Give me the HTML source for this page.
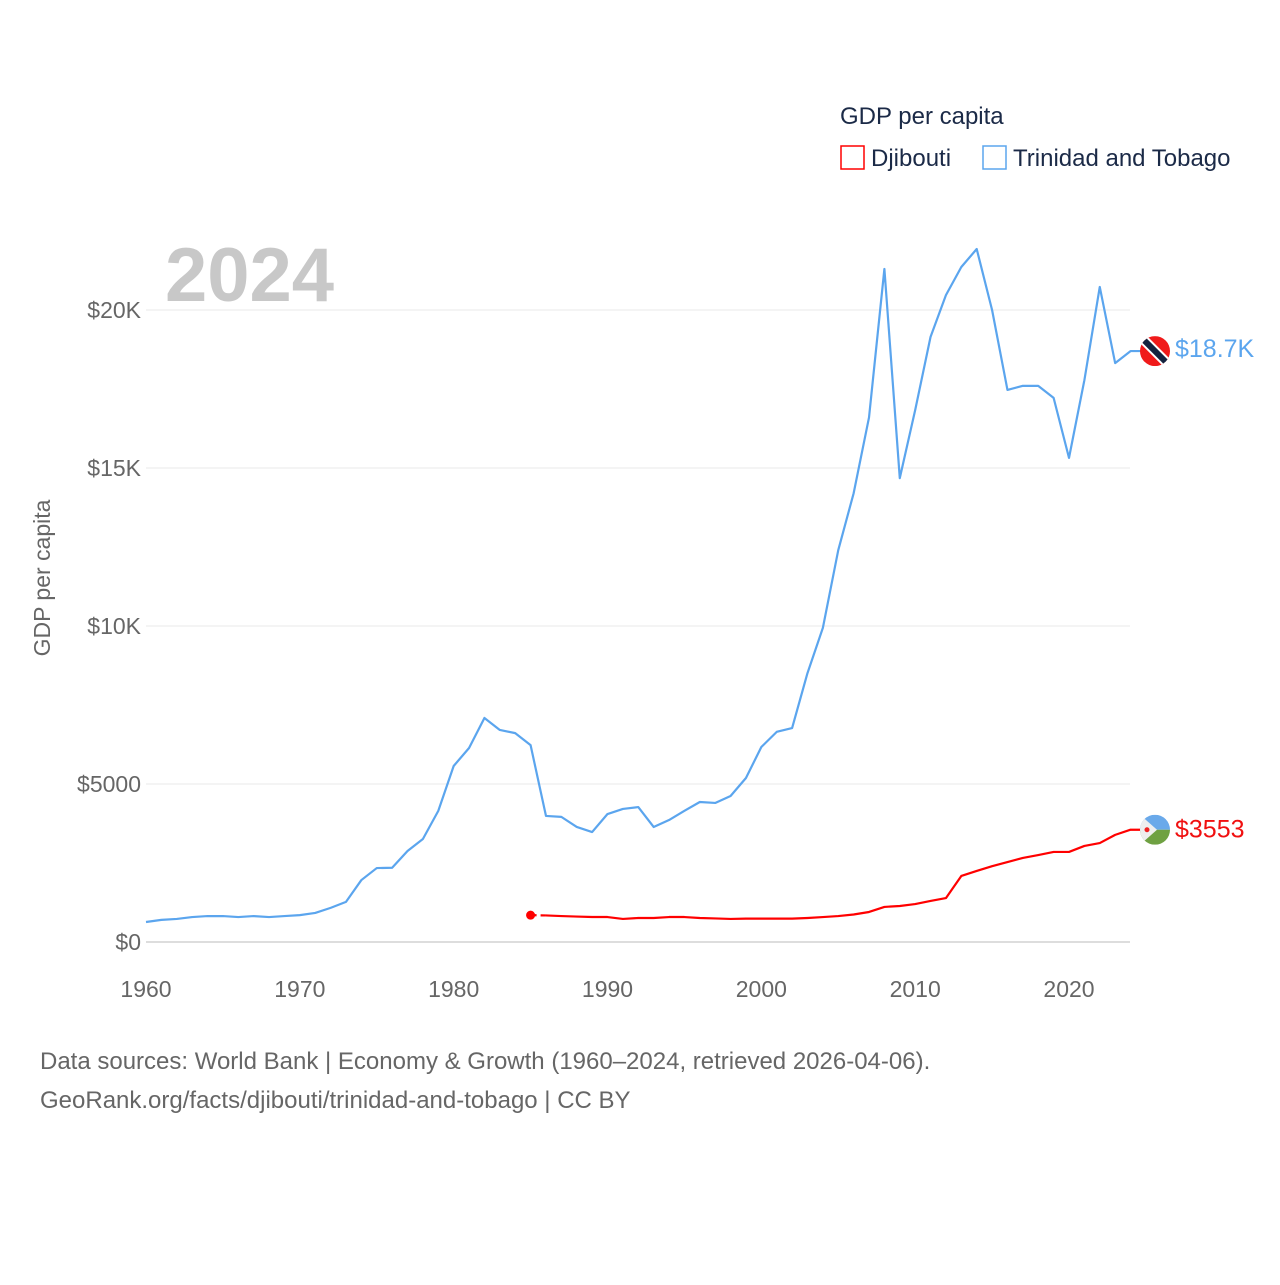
<!DOCTYPE html>
<html><head><meta charset="utf-8"><style>
body{margin:0;background:#fff;font-family:"Liberation Sans",sans-serif;}
svg text{font-family:"Liberation Sans",sans-serif;}
</style></head><body>
<svg width="1280" height="1280" viewBox="0 0 1280 1280">
<text x="840" y="124" font-size="24" fill="#1b2a47">GDP per capita</text>
<g>
<rect x="841" y="146" width="23" height="23" fill="none" stroke="#f00" stroke-width="1.5"/>
<text x="871" y="166" font-size="24" fill="#1b2a47">Djibouti</text></g>
<g>
<rect x="983" y="146" width="23" height="23" fill="none" stroke="#5ba5ee" stroke-width="1.5"/>
<text x="1013" y="166" font-size="24" fill="#1b2a47">Trinidad and Tobago</text></g>
<text x="165" y="301" font-size="76" font-weight="bold" fill="#c8c8c8">2024</text>
<g id="grid"></g><g id="yt"></g><g id="xt"></g>
<text transform="translate(50,578) rotate(-90)" text-anchor="middle" font-size="23" fill="#666">GDP per capita</text>
<g id="series"></g>
<text x="40" y="1069" font-size="24" fill="#666">Data sources: World Bank | Economy &amp; Growth (1960–2024, retrieved 2026-04-06).</text>
<text x="40" y="1108" font-size="24" fill="#666">GeoRank.org/facts/djibouti/trinidad-and-tobago | CC BY</text>
</svg>
<script>
const ttYears=[];for(let y=1960;y<=2024;y++)ttYears.push(y);
const ttValues=[633,700,730,790,820,820,790,820,790,820,850,920,1080,1270,1960,2340,2350,2880,3260,4150,5570,6140,7090,6710,6610,6230,3990,3960,3640,3480,4050,4210,4270,3640,3860,4150,4430,4400,4620,5190,6170,6650,6770,8510,9940,12400,14200,16600,21300,14680,16830,19150,20470,21360,21930,20000,17470,17600,17600,17220,15320,17780,20730,18320,18700];
const djYears=[];for(let y=1985;y<=2024;y++)djYears.push(y);
const djValues=[850,840,820,805,790,790,730,760,760,790,790,760,745,730,740,740,740,740,760,790,820,870,950,1110,1140,1200,1300,1390,2090,2250,2400,2530,2660,2750,2850,2850,3040,3130,3390,3553];
const yTicks=[0,5000,10000,15000,20000];
const yTickLabels=["$0","$5000","$10K","$15K","$20K"];
const xTicks=[1960,1970,1980,1990,2000,2010,2020];
const NS="http://www.w3.org/2000/svg";
const X=y=>146+(y-1960)*(1069-146)/60;
const Y=v=>942-v*(632/20000);
function mk(t,a,p){const e=document.createElementNS(NS,t);for(const k in a)e.setAttribute(k,a[k]);p.appendChild(e);return e;}
const g=document.getElementById('grid'),yt=document.getElementById('yt'),xt=document.getElementById('xt'),s=document.getElementById('series');
yTicks.forEach((v,i)=>{
 const l=mk('line',{x1:146,x2:1130,y1:Y(v),y2:Y(v),stroke:v===0?'#ddd':'#e8e8e8','stroke-width':v===0?2:1},g);
 
 
 const t=mk('text',{x:141,y:Y(v)+8,'text-anchor':'end','font-size':23,fill:'#666'},yt);t.textContent=yTickLabels[i];
 
 
});
xTicks.forEach(v=>{
 const t=mk('text',{x:X(v),y:997,'text-anchor':'middle','font-size':23,fill:'#666'},xt);t.textContent=v;
 
 
});
const ttPts=ttYears.map((y,i)=>X(y)+','+Y(ttValues[i]));
const lastTT=Y(ttValues[ttValues.length-1]);
const tl=mk('polyline',{points:ttPts.join(' ')+' '+(X(2024)+12)+','+lastTT,fill:'none',stroke:'#5ba5ee','stroke-width':2.2,'stroke-linejoin':'round'},s);


const dd=mk('line',{x1:X(1985),y1:Y(djValues[0]),x2:X(1986),y2:Y(djValues[1]),stroke:'#f00','stroke-width':2.2,'stroke-dasharray':'6,4'},s);


const dot=mk('circle',{cx:X(1985),cy:Y(djValues[0]),r:4.5,fill:'#f00'},s);


const djPts=djYears.slice(1).map((y,i)=>X(y)+','+Y(djValues[i+1]));
const lastDJ=Y(djValues[djValues.length-1]);
const dl=mk('polyline',{points:djPts.join(' ')+' '+(X(2024)+10)+','+lastDJ,fill:'none',stroke:'#f00','stroke-width':2.2,'stroke-linejoin':'round'},s);


const cx=1155;
const f1=mk('g',{},s);


const cp1=mk('clipPath',{id:'c1'},f1);mk('circle',{cx:cx,cy:lastTT,r:15},cp1);
const gg=mk('g',{'clip-path':'url(#c1)'},f1);
mk('rect',{x:cx-15,y:lastTT-15,width:30,height:30,fill:'#f01a1a'},gg);
mk('line',{x1:cx-15,y1:lastTT-15,x2:cx+15,y2:lastTT+15,stroke:'#fff','stroke-width':10},gg);
mk('line',{x1:cx-15,y1:lastTT-15,x2:cx+15,y2:lastTT+15,stroke:'#14233f','stroke-width':6},gg);
const t1=mk('text',{x:1175,y:lastTT+6,'font-size':25,fill:'#5ba5ee'},s);t1.textContent='$18.7K';


const f2=mk('g',{},s);


const cp=mk('clipPath',{id:'c2'},f2);mk('circle',{cx:cx,cy:lastDJ,r:15},cp);
const g2=mk('g',{'clip-path':'url(#c2)'},f2);
mk('rect',{x:cx-15,y:lastDJ-15,width:30,height:15,fill:'#6aa9ea'},g2);
mk('rect',{x:cx-15,y:lastDJ,width:30,height:15,fill:'#6fa142'},g2);
mk('polygon',{points:(cx-15)+','+(lastDJ-15)+' '+(cx+2)+','+lastDJ+' '+(cx-15)+','+(lastDJ+15),fill:'#eee'},g2);
mk('circle',{cx:cx-8,cy:lastDJ,r:2.5,fill:'#e22'},g2);
const t2=mk('text',{x:1175,y:lastDJ+8,'font-size':25,fill:'#f01010'},s);t2.textContent='$3553';


</script>
</body></html>
